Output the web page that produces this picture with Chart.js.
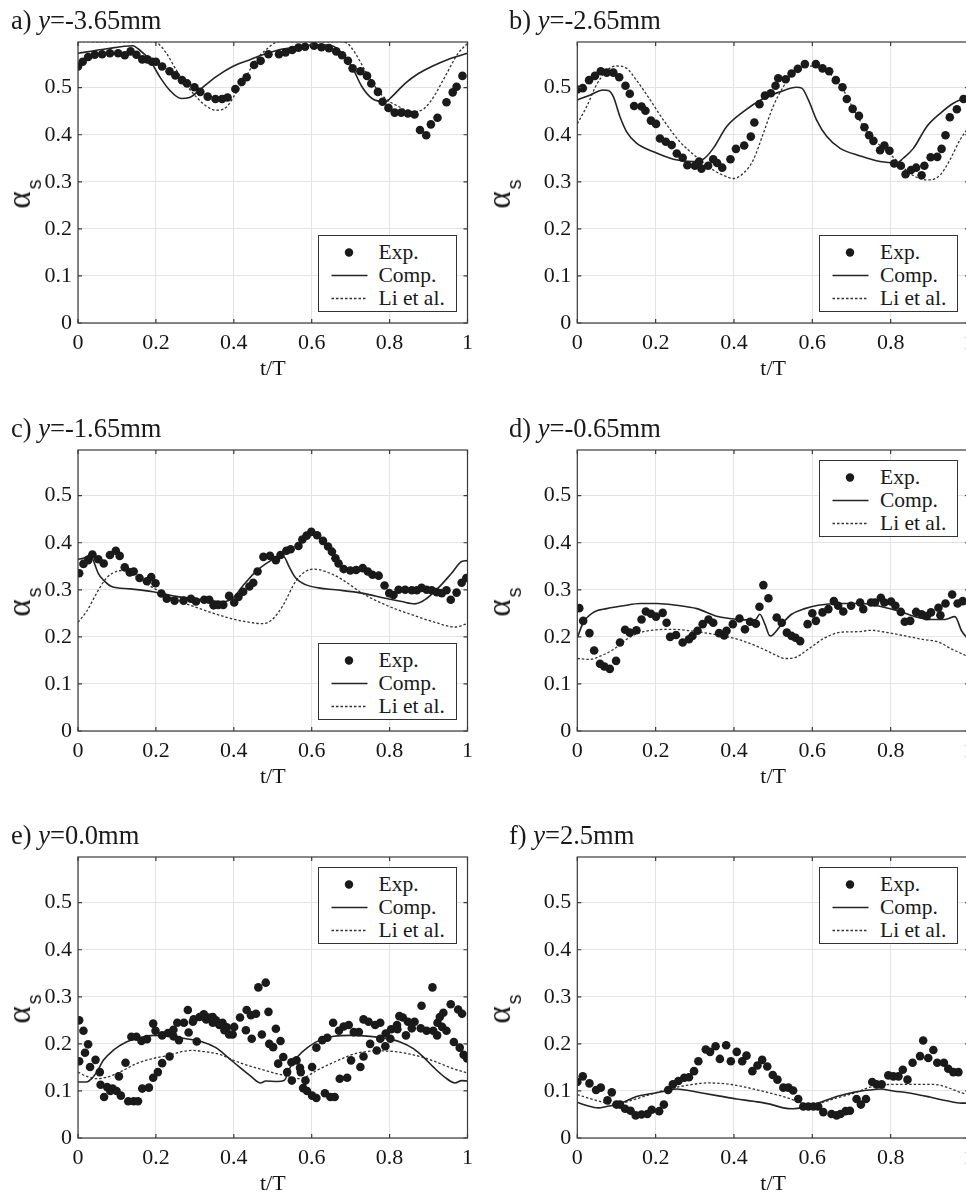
<!DOCTYPE html>
<html><head><meta charset="utf-8">
<script src="https://cdn.jsdelivr.net/npm/chart.js@4.4.1/dist/chart.umd.min.js"></script>
<style>
html,body{margin:0;padding:0;background:#fff;width:966px;height:1192px;overflow:hidden;position:relative;}
canvas{position:absolute;}
.ttl{position:absolute;font-family:"Liberation Serif","Times New Roman",serif;font-size:26.5px;line-height:26px;color:#1a1a1a;white-space:nowrap;}
.ylab{position:absolute;transform:translate(-50%,-50%) rotate(-90deg);white-space:nowrap;color:#1a1a1a;line-height:32px;}
.ylab .al{font-family:"Liberation Serif","Times New Roman",serif;font-size:33px;}
.ylab .sb{font-family:"Liberation Sans",Arial,sans-serif;font-size:20px;position:relative;top:11px;margin-left:2px;}
.leg{position:absolute;width:137px;height:75px;border:1.3px solid #333;background:#fff;font-family:"Liberation Serif","Times New Roman",serif;font-size:21.5px;color:#1a1a1a;}
.leg .row{position:absolute;left:0;height:23px;width:137px;}
.leg .row span{position:absolute;left:60px;top:0;line-height:23px;}
.leg svg{position:absolute;left:0;top:0;}
</style></head><body>
<script>
// ---- data (t/T, alpha_s) ----
const xTickLabels = ['0','0.2','0.4','0.6','0.8','1'];
const yTickLabels = ['0','0.1','0.2','0.3','0.4','0.5'];

const aExp = [[0,0.545],[0.012,0.555],[0.026,0.565],[0.043,0.570],[0.062,0.571],[0.082,0.573],[0.103,0.573],[0.12,0.569],[0.135,0.577],[0.15,0.57],[0.165,0.56],[0.178,0.56],[0.19,0.555],[0.2,0.555],[0.216,0.545],[0.235,0.535],[0.25,0.526],[0.267,0.516],[0.28,0.509],[0.299,0.501],[0.314,0.491],[0.333,0.481],[0.353,0.476],[0.37,0.476],[0.384,0.479],[0.404,0.497],[0.42,0.512],[0.433,0.522],[0.452,0.548],[0.469,0.557],[0.489,0.571],[0.516,0.571],[0.533,0.575],[0.55,0.58],[0.566,0.585],[0.583,0.587],[0.606,0.589],[0.625,0.586],[0.644,0.584],[0.663,0.577],[0.678,0.569],[0.693,0.557],[0.705,0.541],[0.725,0.535],[0.742,0.525],[0.753,0.509],[0.77,0.491],[0.782,0.47],[0.797,0.457],[0.813,0.447],[0.83,0.447],[0.847,0.445],[0.864,0.443],[0.878,0.41],[0.894,0.399],[0.906,0.422],[0.923,0.436],[0.946,0.469],[0.962,0.49],[0.972,0.502],[0.987,0.525]];
const aComp = [[0,0.573],[0.07,0.582],[0.14,0.589],[0.158,0.58],[0.184,0.559],[0.21,0.523],[0.235,0.495],[0.265,0.477],[0.286,0.479],[0.312,0.495],[0.354,0.523],[0.397,0.545],[0.44,0.559],[0.482,0.572],[0.525,0.582],[0.567,0.587],[0.61,0.591],[0.652,0.589],[0.678,0.573],[0.703,0.545],[0.729,0.502],[0.755,0.477],[0.789,0.47],[0.806,0.481],[0.84,0.509],[0.874,0.53],[0.908,0.545],[0.95,0.56],[1,0.573]];
const aLi = [[0,0.598],[0.19,0.598],[0.205,0.594],[0.227,0.573],[0.252,0.538],[0.278,0.506],[0.303,0.481],[0.329,0.461],[0.354,0.452],[0.38,0.458],[0.405,0.488],[0.431,0.523],[0.457,0.559],[0.482,0.58],[0.505,0.595],[0.52,0.598],[0.68,0.598],[0.693,0.593],[0.712,0.573],[0.738,0.535],[0.763,0.502],[0.789,0.477],[0.823,0.46],[0.857,0.449],[0.882,0.452],[0.908,0.474],[0.942,0.523],[0.976,0.573],[1,0.594]];

const bExp = [[0,0.496],[0.014,0.499],[0.030,0.516],[0.045,0.525],[0.06,0.535],[0.075,0.532],[0.092,0.532],[0.107,0.522],[0.123,0.504],[0.134,0.487],[0.145,0.461],[0.164,0.46],[0.174,0.451],[0.188,0.43],[0.201,0.423],[0.211,0.392],[0.226,0.385],[0.241,0.378],[0.254,0.36],[0.269,0.351],[0.281,0.335],[0.3,0.334],[0.311,0.343],[0.317,0.328],[0.334,0.334],[0.347,0.348],[0.357,0.34],[0.37,0.33],[0.391,0.348],[0.405,0.37],[0.426,0.377],[0.443,0.396],[0.452,0.426],[0.465,0.465],[0.479,0.483],[0.494,0.488],[0.506,0.504],[0.513,0.52],[0.532,0.518],[0.547,0.53],[0.563,0.54],[0.581,0.55],[0.609,0.55],[0.626,0.541],[0.643,0.535],[0.66,0.516],[0.677,0.501],[0.688,0.476],[0.703,0.455],[0.719,0.44],[0.733,0.416],[0.745,0.399],[0.756,0.387],[0.773,0.367],[0.784,0.377],[0.797,0.366],[0.809,0.339],[0.826,0.334],[0.838,0.316],[0.852,0.325],[0.865,0.33],[0.879,0.314],[0.886,0.334],[0.902,0.352],[0.919,0.353],[0.93,0.37],[0.94,0.399],[0.951,0.437],[0.969,0.454],[0.986,0.476]];
const bComp = [[0,0.474],[0.032,0.484],[0.066,0.495],[0.079,0.494],[0.092,0.481],[0.109,0.438],[0.126,0.406],[0.151,0.382],[0.194,0.364],[0.245,0.348],[0.296,0.343],[0.322,0.348],[0.347,0.371],[0.381,0.417],[0.424,0.449],[0.475,0.477],[0.517,0.491],[0.56,0.501],[0.573,0.499],[0.59,0.474],[0.611,0.431],[0.637,0.396],[0.671,0.371],[0.722,0.355],[0.773,0.343],[0.815,0.34],[0.832,0.35],[0.858,0.371],[0.892,0.417],[0.926,0.445],[0.96,0.467],[1,0.481]];
const bLi = [[0,0.423],[0.024,0.46],[0.049,0.506],[0.075,0.536],[0.1,0.546],[0.126,0.541],[0.151,0.516],[0.186,0.474],[0.22,0.431],[0.262,0.385],[0.305,0.352],[0.347,0.325],[0.381,0.311],[0.398,0.307],[0.424,0.318],[0.449,0.346],[0.475,0.403],[0.5,0.46],[0.526,0.502],[0.551,0.53],[0.586,0.546],[0.611,0.546],[0.645,0.53],[0.679,0.495],[0.713,0.442],[0.747,0.399],[0.781,0.371],[0.815,0.346],[0.849,0.318],[0.883,0.305],[0.9,0.304],[0.926,0.314],[0.951,0.346],[0.977,0.389],[1,0.417]];

const cExp = [[0.003,0.335],[0.014,0.355],[0.026,0.363],[0.037,0.375],[0.052,0.365],[0.066,0.356],[0.082,0.374],[0.097,0.383],[0.107,0.372],[0.12,0.348],[0.133,0.337],[0.143,0.339],[0.158,0.325],[0.177,0.318],[0.188,0.327],[0.199,0.314],[0.214,0.292],[0.228,0.281],[0.248,0.277],[0.271,0.277],[0.29,0.281],[0.303,0.275],[0.324,0.279],[0.337,0.279],[0.348,0.267],[0.36,0.268],[0.373,0.268],[0.388,0.287],[0.401,0.273],[0.412,0.285],[0.424,0.296],[0.44,0.307],[0.45,0.315],[0.461,0.339],[0.476,0.37],[0.493,0.372],[0.508,0.363],[0.52,0.374],[0.535,0.383],[0.546,0.386],[0.566,0.393],[0.576,0.407],[0.587,0.415],[0.599,0.423],[0.614,0.416],[0.629,0.404],[0.642,0.392],[0.652,0.381],[0.661,0.367],[0.669,0.356],[0.682,0.344],[0.699,0.341],[0.714,0.342],[0.731,0.346],[0.744,0.339],[0.756,0.332],[0.772,0.33],[0.787,0.309],[0.799,0.293],[0.81,0.289],[0.823,0.3],[0.84,0.3],[0.857,0.299],[0.87,0.299],[0.882,0.304],[0.895,0.3],[0.908,0.299],[0.921,0.295],[0.934,0.293],[0.946,0.299],[0.957,0.279],[0.972,0.294],[0.985,0.315],[0.997,0.325]];
const cComp = [[0,0.365],[0.014,0.367],[0.031,0.374],[0.039,0.363],[0.052,0.335],[0.065,0.321],[0.086,0.307],[0.133,0.302],[0.193,0.296],[0.252,0.286],[0.32,0.279],[0.371,0.275],[0.397,0.282],[0.422,0.307],[0.457,0.339],[0.491,0.36],[0.516,0.372],[0.529,0.37],[0.542,0.349],[0.559,0.325],[0.584,0.311],[0.618,0.304],[0.661,0.3],[0.729,0.293],[0.789,0.282],[0.831,0.275],[0.865,0.27],[0.891,0.279],[0.925,0.304],[0.959,0.335],[0.985,0.36],[1,0.362]];
const cLi = [[0,0.231],[0.022,0.254],[0.048,0.293],[0.073,0.325],[0.099,0.339],[0.116,0.341],[0.141,0.332],[0.193,0.304],[0.252,0.279],[0.32,0.258],[0.388,0.24],[0.44,0.231],[0.474,0.228],[0.499,0.237],[0.525,0.265],[0.559,0.318],[0.584,0.339],[0.606,0.344],[0.635,0.339],[0.678,0.322],[0.729,0.293],[0.789,0.268],[0.857,0.247],[0.916,0.231],[0.968,0.221],[1,0.228]];

const dExp = [[0.005,0.261],[0.015,0.234],[0.031,0.208],[0.043,0.171],[0.058,0.143],[0.069,0.137],[0.083,0.132],[0.099,0.149],[0.109,0.188],[0.122,0.215],[0.134,0.209],[0.151,0.214],[0.164,0.237],[0.175,0.254],[0.188,0.249],[0.201,0.243],[0.218,0.251],[0.228,0.23],[0.237,0.2],[0.252,0.204],[0.269,0.188],[0.285,0.195],[0.294,0.202],[0.307,0.213],[0.32,0.227],[0.335,0.237],[0.347,0.23],[0.362,0.208],[0.375,0.203],[0.381,0.213],[0.397,0.227],[0.414,0.239],[0.428,0.216],[0.441,0.232],[0.456,0.228],[0.465,0.264],[0.475,0.31],[0.488,0.282],[0.509,0.241],[0.522,0.23],[0.535,0.209],[0.547,0.202],[0.557,0.198],[0.569,0.191],[0.588,0.227],[0.6,0.25],[0.609,0.234],[0.626,0.252],[0.641,0.259],[0.655,0.276],[0.666,0.266],[0.679,0.254],[0.699,0.266],[0.722,0.273],[0.73,0.259],[0.75,0.273],[0.76,0.273],[0.775,0.283],[0.784,0.273],[0.801,0.275],[0.812,0.266],[0.826,0.253],[0.836,0.232],[0.85,0.234],[0.865,0.253],[0.879,0.248],[0.892,0.244],[0.903,0.252],[0.922,0.262],[0.927,0.246],[0.94,0.271],[0.957,0.29],[0.971,0.271],[0.984,0.276]];
const dComp = [[0,0.198],[0.015,0.23],[0.041,0.252],[0.075,0.26],[0.117,0.266],[0.16,0.271],[0.203,0.271],[0.254,0.267],[0.305,0.26],[0.356,0.244],[0.39,0.239],[0.424,0.236],[0.454,0.236],[0.466,0.248],[0.479,0.227],[0.492,0.202],[0.5,0.205],[0.522,0.227],[0.547,0.248],[0.581,0.26],[0.615,0.267],[0.666,0.271],[0.726,0.271],[0.777,0.264],[0.82,0.255],[0.862,0.243],[0.905,0.237],[0.939,0.237],[0.964,0.243],[0.981,0.213],[0.991,0.202],[1,0.198]];
const dLi = [[0,0.154],[0.032,0.152],[0.058,0.159],[0.092,0.173],[0.126,0.195],[0.16,0.209],[0.203,0.215],[0.237,0.216],[0.279,0.214],[0.322,0.209],[0.373,0.202],[0.424,0.191],[0.475,0.174],[0.505,0.162],[0.531,0.154],[0.556,0.156],[0.59,0.174],[0.632,0.198],[0.675,0.21],[0.717,0.211],[0.751,0.214],[0.786,0.21],[0.837,0.202],[0.879,0.195],[0.922,0.189],[0.956,0.174],[0.99,0.161],[1,0.157]];

const eExp = [[0.003,0.25],[0.003,0.163],[0.014,0.228],[0.018,0.181],[0.026,0.199],[0.031,0.151],[0.045,0.166],[0.056,0.14],[0.058,0.113],[0.067,0.087],[0.075,0.108],[0.083,0.1],[0.089,0.105],[0.099,0.1],[0.105,0.131],[0.11,0.09],[0.122,0.16],[0.129,0.078],[0.137,0.215],[0.143,0.078],[0.15,0.215],[0.154,0.078],[0.163,0.206],[0.165,0.105],[0.177,0.21],[0.182,0.107],[0.193,0.243],[0.193,0.128],[0.199,0.228],[0.205,0.14],[0.216,0.218],[0.216,0.159],[0.231,0.223],[0.235,0.173],[0.245,0.23],[0.245,0.216],[0.255,0.245],[0.259,0.208],[0.272,0.245],[0.282,0.272],[0.284,0.224],[0.295,0.247],[0.297,0.252],[0.305,0.205],[0.312,0.257],[0.323,0.263],[0.329,0.252],[0.336,0.256],[0.346,0.257],[0.346,0.245],[0.354,0.25],[0.363,0.24],[0.371,0.245],[0.376,0.229],[0.382,0.235],[0.388,0.22],[0.397,0.22],[0.401,0.236],[0.416,0.256],[0.431,0.229],[0.433,0.272],[0.444,0.261],[0.446,0.211],[0.457,0.264],[0.463,0.32],[0.472,0.22],[0.482,0.33],[0.489,0.268],[0.491,0.2],[0.501,0.193],[0.508,0.232],[0.514,0.158],[0.52,0.206],[0.527,0.172],[0.537,0.14],[0.548,0.161],[0.549,0.122],[0.561,0.165],[0.57,0.149],[0.572,0.14],[0.578,0.106],[0.584,0.122],[0.588,0.1],[0.601,0.09],[0.601,0.151],[0.612,0.085],[0.612,0.192],[0.627,0.208],[0.634,0.095],[0.64,0.213],[0.648,0.087],[0.655,0.245],[0.659,0.087],[0.67,0.228],[0.672,0.126],[0.682,0.237],[0.691,0.128],[0.695,0.24],[0.701,0.165],[0.708,0.225],[0.721,0.225],[0.725,0.151],[0.733,0.173],[0.733,0.252],[0.746,0.247],[0.75,0.2],[0.763,0.24],[0.767,0.186],[0.776,0.245],[0.776,0.211],[0.789,0.195],[0.79,0.222],[0.802,0.211],[0.804,0.231],[0.819,0.24],[0.82,0.231],[0.825,0.259],[0.834,0.256],[0.842,0.218],[0.847,0.247],[0.857,0.233],[0.864,0.247],[0.88,0.233],[0.882,0.281],[0.895,0.228],[0.91,0.32],[0.912,0.228],[0.922,0.218],[0.923,0.245],[0.929,0.257],[0.935,0.236],[0.938,0.266],[0.946,0.228],[0.957,0.284],[0.965,0.204],[0.976,0.273],[0.98,0.192],[0.986,0.264],[0.99,0.177],[0.999,0.169]];
const eComp = [[0,0.119],[0.022,0.119],[0.035,0.126],[0.048,0.14],[0.065,0.165],[0.09,0.186],[0.124,0.204],[0.158,0.213],[0.193,0.218],[0.235,0.216],[0.278,0.211],[0.32,0.204],[0.354,0.192],[0.384,0.172],[0.414,0.151],[0.444,0.131],[0.469,0.117],[0.482,0.121],[0.512,0.12],[0.529,0.122],[0.546,0.152],[0.563,0.172],[0.589,0.192],[0.623,0.209],[0.657,0.216],[0.7,0.218],[0.75,0.216],[0.793,0.211],[0.827,0.204],[0.861,0.19],[0.887,0.172],[0.912,0.151],[0.942,0.129],[0.968,0.117],[0.985,0.122],[1,0.121]];
const eLi = [[0,0.14],[0.022,0.131],[0.048,0.126],[0.073,0.129],[0.107,0.14],[0.15,0.158],[0.193,0.169],[0.235,0.176],[0.269,0.184],[0.295,0.186],[0.329,0.183],[0.363,0.178],[0.388,0.169],[0.422,0.158],[0.457,0.149],[0.495,0.14],[0.529,0.133],[0.563,0.126],[0.58,0.128],[0.614,0.144],[0.657,0.161],[0.7,0.176],[0.733,0.183],[0.776,0.185],[0.819,0.183],[0.853,0.178],[0.887,0.171],[0.921,0.161],[0.964,0.147],[1,0.138]];

const fExp = [[0,0.119],[0.014,0.131],[0.031,0.116],[0.048,0.102],[0.06,0.107],[0.077,0.08],[0.088,0.097],[0.1,0.071],[0.109,0.071],[0.122,0.062],[0.136,0.058],[0.149,0.048],[0.164,0.05],[0.179,0.051],[0.19,0.06],[0.209,0.057],[0.221,0.071],[0.232,0.102],[0.244,0.114],[0.258,0.121],[0.273,0.128],[0.285,0.129],[0.298,0.142],[0.309,0.163],[0.328,0.188],[0.339,0.183],[0.353,0.195],[0.364,0.168],[0.38,0.197],[0.392,0.163],[0.407,0.183],[0.421,0.163],[0.432,0.175],[0.447,0.142],[0.46,0.154],[0.472,0.166],[0.485,0.152],[0.499,0.134],[0.511,0.124],[0.526,0.107],[0.539,0.107],[0.551,0.101],[0.564,0.083],[0.577,0.067],[0.59,0.067],[0.603,0.067],[0.615,0.067],[0.628,0.055],[0.649,0.051],[0.662,0.048],[0.672,0.051],[0.685,0.057],[0.696,0.058],[0.713,0.083],[0.724,0.071],[0.737,0.083],[0.753,0.119],[0.764,0.114],[0.777,0.114],[0.794,0.133],[0.807,0.131],[0.82,0.131],[0.831,0.145],[0.843,0.124],[0.856,0.16],[0.875,0.174],[0.883,0.207],[0.896,0.17],[0.909,0.187],[0.919,0.16],[0.936,0.16],[0.947,0.147],[0.96,0.14],[0.973,0.14]];
const fComp = [[0,0.076],[0.024,0.069],[0.054,0.064],[0.075,0.067],[0.1,0.071],[0.126,0.079],[0.151,0.088],[0.186,0.094],[0.22,0.099],[0.254,0.104],[0.275,0.102],[0.322,0.095],[0.364,0.089],[0.407,0.083],[0.449,0.078],[0.492,0.072],[0.526,0.064],[0.551,0.062],[0.577,0.065],[0.603,0.071],[0.628,0.078],[0.662,0.088],[0.705,0.097],[0.747,0.102],[0.773,0.104],[0.807,0.1],[0.858,0.094],[0.9,0.087],[0.943,0.079],[0.981,0.074],[1,0.074]];
const fLi = [[0,0.092],[0.032,0.084],[0.066,0.076],[0.1,0.071],[0.134,0.079],[0.177,0.09],[0.22,0.101],[0.254,0.108],[0.296,0.114],[0.33,0.117],[0.381,0.115],[0.424,0.109],[0.475,0.099],[0.526,0.088],[0.568,0.076],[0.594,0.069],[0.628,0.076],[0.662,0.085],[0.705,0.095],[0.747,0.108],[0.773,0.112],[0.815,0.114],[0.875,0.114],[0.909,0.114],[0.943,0.108],[0.977,0.097],[1,0.092]];

const panelLetters = ['a)','b)','c)','d)','e)','f)'];
const panelY = ['-3.65','-2.65','-1.65','-0.65','0.0','2.5'];
const seriesNames = ['Exp.','Comp.','Li et al.'];
const yMax = 0.597;

// ---- layout ----
const INK = '#161616', AXIS = '#3a3a3a', GRID = '#e3e3e3';
const FONT = '"Liberation Serif","Times New Roman",serif';
const rowTop = [22, 430, 837];
const colLeft = [0, 480];
const panels = [
  {exp:aExp, comp:aComp, li:aLi, leg:'bottom'},
  {exp:bExp, comp:bComp, li:bLi, leg:'bottom'},
  {exp:cExp, comp:cComp, li:cLi, leg:'bottom'},
  {exp:dExp, comp:dComp, li:dLi, leg:'top'},
  {exp:eExp, comp:eComp, li:eLi, leg:'top'},
  {exp:fExp, comp:fComp, li:fLi, leg:'top'}
];

const boxPlugin = {
  id:'box',
  afterDatasetsDraw(chart){
    const {ctx, chartArea:a, scales:{x,y}} = chart;
    ctx.save();
    ctx.strokeStyle = AXIS; ctx.lineWidth = 1.2;
    ctx.beginPath();
    x.ticks.forEach(t=>{const p=x.getPixelForValue(t.value);ctx.moveTo(p,a.bottom);ctx.lineTo(p,a.bottom-4);ctx.moveTo(p,a.top);ctx.lineTo(p,a.top+4);});
    y.ticks.forEach(t=>{const p=y.getPixelForValue(t.value);ctx.moveTo(a.left,p);ctx.lineTo(a.left+4,p);ctx.moveTo(a.right,p);ctx.lineTo(a.right-4,p);});
    ctx.stroke();
    ctx.strokeRect(a.left, a.top, a.width, a.height);
    ctx.restore();
  }
};

const pts = arr => arr.map(([t,v])=>({x:t,y:v}));

panels.forEach((p,i)=>{
  const col = i%2, row = Math.floor(i/2);
  const cw = col===0 ? 480 : 510, ch = 360;
  const cl = colLeft[col], ct = rowTop[row];
  const padL = col===0 ? 18 : 37.3;
  const padR = col===0 ? 10.7 : 21;
  const cv = document.createElement('canvas');
  cv.width = cw; cv.height = ch;
  cv.style.left = cl+'px'; cv.style.top = ct+'px';
  cv.style.width = cw+'px'; cv.style.height = ch+'px';
  document.body.appendChild(cv);
  const chart = new Chart(cv, {
    type:'scatter',
    data:{datasets:[
      {label:seriesNames[0], data:pts(p.exp), showLine:false, pointRadius:4.3, pointHoverRadius:4.3, pointBackgroundColor:'#1a1a1a', pointBorderWidth:0, borderColor:'#1a1a1a'},
      {label:seriesNames[1], data:pts(p.comp), showLine:true, pointRadius:0, borderColor:'#242424', borderWidth:1.6, cubicInterpolationMode:'monotone'},
      {label:seriesNames[2], data:pts(p.li), showLine:true, pointRadius:0, borderColor:'#333', borderWidth:1.3, borderDash:[2.5,2], cubicInterpolationMode:'monotone'}
    ]},
    options:{
      responsive:false, animation:false, devicePixelRatio:1,
      layout:{padding:{left:padL, right:padR, top:20, bottom:0}},
      plugins:{legend:{display:false}, tooltip:{enabled:false}},
      scales:{
        x:{type:'linear', min:0, max:1,
           ticks:{stepSize:0.2, includeBounds:false, autoSkip:false, maxRotation:0, padding:7, color:INK, font:{family:FONT,size:22}, callback:(v,k)=>xTickLabels[k]},
           grid:{color:GRID, drawTicks:false, lineWidth:1}, border:{display:false},
           title:{display:true, text:'t/T', color:INK, font:{family:FONT,size:22}, padding:{top:0,bottom:0}},
           afterFit(s){s.height = 59;}},
        y:{type:'linear', min:0, max:yMax,
           ticks:{stepSize:0.1, includeBounds:false, padding:6, color:INK, font:{family:FONT,size:22}, callback:(v,k)=>yTickLabels[k]},
           grid:{color:GRID, drawTicks:false, lineWidth:1}, border:{display:false},
           afterFit(s){s.width = 60;}}
      }
    },
    plugins:[boxPlugin]
  });
  const a = chart.chartArea;
  const L = cl + a.left, R = cl + a.right, T = ct + a.top, B = ct + a.bottom;

  // title
  const t = document.createElement('div');
  t.className = 'ttl';
  t.innerHTML = panelLetters[i] + ' <i>y</i>=' + panelY[i] + 'mm';
  t.style.left = (col===0 ? 11 : 509) + 'px';
  t.style.top = (T - 35) + 'px';
  document.body.appendChild(t);

  // y label
  const yl = document.createElement('div');
  yl.className = 'ylab';
  yl.innerHTML = '<span class="al">α</span><span class="sb">s</span>';
  yl.style.left = (cl + 22) + 'px';
  yl.style.top = ((T+B)/2 + 11) + 'px';
  document.body.appendChild(yl);

  // legend
  const lg = document.createElement('div');
  lg.className = 'leg';
  lg.style.left = (R - 11 - 139) + 'px';
  lg.style.top = (p.leg==='bottom' ? (B - 10 - 77.6) : (T + 10)) + 'px';
  const rowsTop = [5, 28, 51];
  let html = '';
  seriesNames.forEach((n,k)=>{
    let sym;
    if(k===0) sym = '<circle cx="30" cy="11.5" r="4.2" fill="#1a1a1a"/>';
    else if(k===1) sym = '<line x1="12.5" y1="11.5" x2="48.5" y2="11.5" stroke="#242424" stroke-width="1.6"/>';
    else sym = '<line x1="12.5" y1="11.5" x2="48.5" y2="11.5" stroke="#333" stroke-width="1.3" stroke-dasharray="2.5 2"/>';
    html += '<div class="row" style="top:'+rowsTop[k]+'px"><svg width="60" height="23">'+sym+'</svg><span>'+n+'</span></div>';
  });
  lg.innerHTML = html;
  document.body.appendChild(lg);
});
</script>
</body></html>
